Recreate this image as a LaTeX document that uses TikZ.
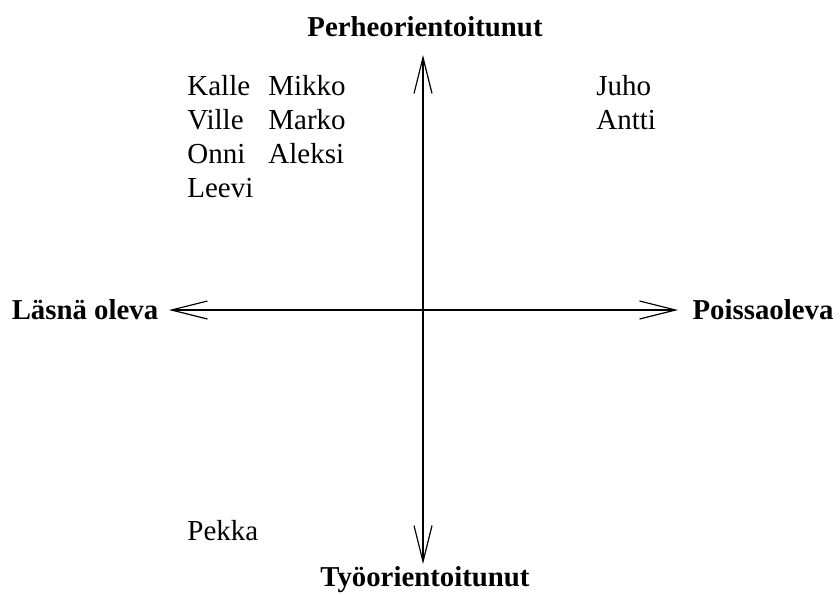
\documentclass[tikz,border=0pt]{standalone}
\usepackage{fontspec}
\setmainfont{Liberation Serif}
\usepackage{tikz}
\usetikzlibrary{arrows.meta}

\begin{document}
\begin{tikzpicture}[x=0.5pt,y=-0.5pt,font=\fontsize{14.5}{17}\selectfont,
  axis/.style={line width=0.6pt,{Straight Barb[length=18pt,width=9pt,line width=0.6pt]}-{Straight Barb[length=18pt,width=9pt,line width=0.6pt]}},
  pole/.style={font=\fontsize{14.4}{17}\selectfont\bfseries},
  person/.style={anchor=base west,inner sep=0pt}]
\useasboundingbox (0,0) rectangle (840,594);
% axes
\coordinate (ytop) at (423,55);
\coordinate (ybot) at (423,564);
\coordinate (xleft) at (169,310);
\coordinate (xright) at (678,310);
\draw[axis] (ybot) -- (ytop);
\draw[axis] (xleft) -- (xright);
% poles
\node[pole] (perhe) at (425,27) {Perheorientoitunut};
\node[pole] (tyo) at (425,580) {Työorientoitunut};
\node[pole] (lasna) at (85,310) {Läsnä oleva};
\node[pole] (poissa) at (763,310) {Poissaoleva};
% names
\node[person] (kalle) at (187,95) {Kalle};
\node[person] (ville) at (187,129) {Ville};
\node[person] (onni) at (187,163) {Onni};
\node[person] (leevi) at (187,197) {Leevi};
\node[person] (mikko) at (268,95) {Mikko};
\node[person] (marko) at (268,129) {Marko};
\node[person] (aleksi) at (268,163) {Aleksi};
\node[person] (juho) at (596,95) {Juho};
\node[person] (antti) at (596,129) {Antti};
\node[person] (pekka) at (187,540) {Pekka};
\end{tikzpicture}
\end{document}
